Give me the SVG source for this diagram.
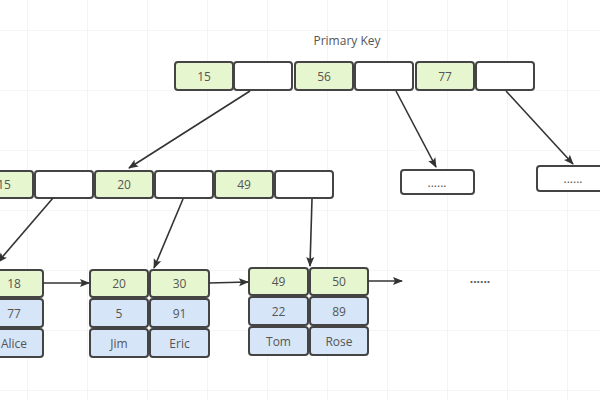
<svg xmlns="http://www.w3.org/2000/svg" width="600" height="400" viewBox="0 0 600 400">
<defs>
<pattern id="grid" x="27" y="30" width="60" height="60" patternUnits="userSpaceOnUse">
<path d="M0 0H60M0 0V60" fill="none" stroke="#ececec" stroke-width="1.2"/>
</pattern>
<marker id="ah" viewBox="0 0 10 10" refX="9" refY="5" markerWidth="6" markerHeight="6" orient="auto" markerUnits="userSpaceOnUse">
<path d="M0 1L10 5L0 9Z" fill="#333"/>
</marker>
<marker id="ahb" viewBox="0 0 10 10" refX="9" refY="5" markerWidth="12" markerHeight="10" orient="auto" markerUnits="userSpaceOnUse">
<path d="M0 1L10 5L0 9L2 5Z" fill="#333"/>
</marker>
</defs>
<style>
.k{fill:#e6f6cf;stroke:#444;stroke-width:2}
.e{fill:#fff;stroke:#444;stroke-width:2}
.v{fill:#d6e6f8;stroke:#444;stroke-width:2}
text{font-family:"Open Sans","Noto Sans","Liberation Sans",sans-serif;font-size:12px;fill:#555;text-anchor:middle;dominant-baseline:central}
.c line{stroke:#333;stroke-width:1.6;marker-end:url(#ahb)}
</style>
<rect width="600" height="400" fill="#fff"/>
<rect width="600" height="400" fill="url(#grid)"/>
<text x="347" y="40" fill="#666">Primary Key</text>

<g id="root">
<rect class="k" x="175" y="62" width="58" height="28" rx="3"/><text x="204" y="76">15</text>
<rect class="e" x="234" y="62" width="58" height="28" rx="3"/>
<rect class="k" x="295" y="62" width="58" height="28" rx="3"/><text x="324" y="76">56</text>
<rect class="e" x="355" y="62" width="58" height="28" rx="3"/>
<rect class="k" x="416" y="62" width="58" height="28" rx="3"/><text x="445" y="76">77</text>
<rect class="e" x="476" y="62" width="58" height="28" rx="3"/>
</g>

<g id="inner">
<rect class="k" x="-25" y="171" width="58" height="27" rx="3"/><text x="4" y="184.5">15</text>
<rect class="e" x="35" y="171" width="58" height="27" rx="3"/>
<rect class="k" x="95" y="171" width="58" height="27" rx="3"/><text x="124" y="184.5">20</text>
<rect class="e" x="155" y="171" width="58" height="27" rx="3"/>
<rect class="k" x="215" y="171" width="58" height="27" rx="3"/><text x="244" y="184.5">49</text>
<rect class="e" x="275" y="171" width="58" height="27" rx="3"/>
</g>

<g id="more1">
<rect class="e" x="401" y="170" width="73" height="24" rx="3"/><text x="437" y="182" font-size="9" fill="#888">......</text>
</g>
<g id="more2">
<rect class="e" x="537" y="166" width="70" height="25" rx="3"/><text x="573" y="178" font-size="9" fill="#888">......</text>
</g>

<g id="leaf1">
<rect class="k" x="-16" y="270" width="59" height="27" rx="3"/><text x="14" y="283.5">18</text>
<rect class="v" x="-16" y="299" width="59" height="28" rx="3"/><text x="14" y="313">77</text>
<rect class="v" x="-16" y="329" width="59" height="28" rx="3"/><text x="14" y="343">Alice</text>
</g>

<g id="leaf2">
<rect class="k" x="90" y="270" width="58" height="27" rx="3"/><text x="119" y="283.5">20</text>
<rect class="k" x="150" y="270" width="59" height="27" rx="3"/><text x="179.5" y="283.5">30</text>
<rect class="v" x="90" y="299" width="58" height="28" rx="3"/><text x="119" y="313">5</text>
<rect class="v" x="150" y="299" width="59" height="28" rx="3"/><text x="179.5" y="313">91</text>
<rect class="v" x="90" y="329" width="58" height="28" rx="3"/><text x="119" y="343">Jim</text>
<rect class="v" x="150" y="329" width="59" height="28" rx="3"/><text x="179.5" y="343">Eric</text>
</g>

<g id="leaf3">
<rect class="k" x="249" y="268" width="59" height="27" rx="3"/><text x="278.5" y="281.5">49</text>
<rect class="k" x="310" y="268" width="58" height="27" rx="3"/><text x="339" y="281.5">50</text>
<rect class="v" x="249" y="297" width="59" height="28" rx="3"/><text x="278.5" y="311">22</text>
<rect class="v" x="310" y="297" width="58" height="28" rx="3"/><text x="339" y="311">89</text>
<rect class="v" x="249" y="327" width="59" height="28" rx="3"/><text x="278.5" y="341">Tom</text>
<rect class="v" x="310" y="327" width="58" height="28" rx="3"/><text x="339" y="341">Rose</text>
</g>

<text x="480" y="278" font-size="14" fill="#333" font-weight="bold">......</text>

<g id="connectors" class="c">
<line x1="250" y1="91" x2="129" y2="168"/>
<line x1="396" y1="91" x2="436" y2="167"/>
<line x1="506" y1="91" x2="573" y2="164"/>
<line x1="53" y1="198" x2="-2" y2="262"/>
<line x1="183" y1="199" x2="154" y2="268"/>
<line x1="312" y1="199" x2="310" y2="266"/>
<line x1="43" y1="283" x2="89" y2="283"/>
<line x1="209" y1="283" x2="248" y2="282"/>
<line x1="368" y1="281" x2="402" y2="281"/>
</g>
</svg>
